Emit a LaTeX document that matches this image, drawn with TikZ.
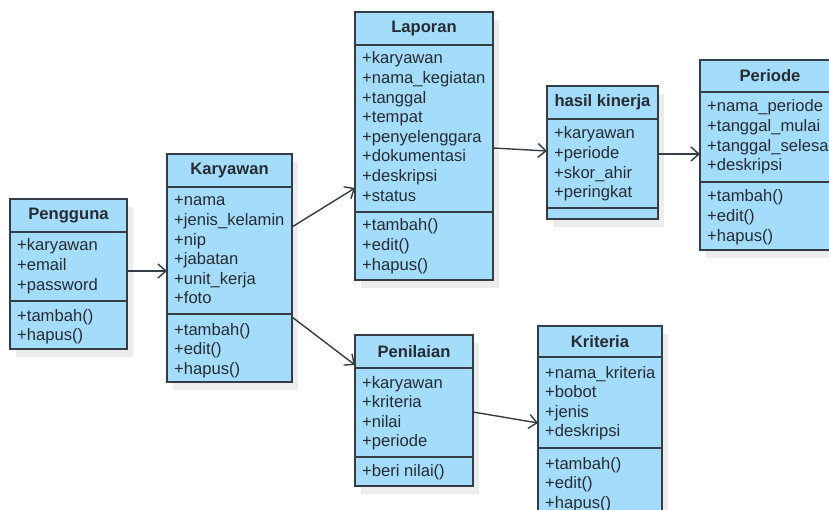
\documentclass[tikz,border=0pt]{standalone}
\usepackage{fontspec}
\setmainfont{Liberation Sans}
\usetikzlibrary{arrows.meta}

\definecolor{boxblue}{RGB}{164,220,252}
\definecolor{lineclr}{RGB}{52,60,68}
\definecolor{txt}{RGB}{38,44,50}
\definecolor{shadowclr}{RGB}{236,236,236}

\tikzset{
  cls/.style={draw=lineclr, fill=boxblue, line width=1.3pt, inner sep=0pt, outer sep=0pt, anchor=north west},
  sep/.style={draw=lineclr, line width=1.3pt},
  shade/.style={fill=shadowclr, draw=none},
  ttl/.style={font=\bfseries\fontsize{16.6}{19.6}\selectfont, text=txt, inner sep=0pt},
  row/.style={font=\fontsize{16.6}{19.6}\selectfont, text=txt, anchor=base west, inner sep=0pt},
  link/.style={draw=lineclr, line width=1.4pt, -{Straight Barb[length=8pt,width=14pt,line width=1.4pt]}},
}

% #1 name, #2 left, #3 top, #4 right, #5 header bottom, #6 divider, #7 bottom, #8 title
\newcommand\classbox[8]{%
  \fill[shade] (#2+6,#3+8) rectangle (#4+6,#7+8);
  \node[cls, minimum width={(#4-#2)*1pt}, minimum height={(#7-#3)*1pt}] (#1) at (#2,#3) {};
  \draw[sep] (#2,#5) -- (#4,#5);
  \draw[sep] (#2,#6) -- (#4,#6);
  \node[ttl] (#1-title) at ({(#2+#4)/2},{(#3+#5)/2}) {#8};
}
% #1 node prefix, #2 text x, #3 centre of first row, #4 rows
\newcommand\classrows[4]{%
  \foreach \t [count=\i] in {#4} {
    \node[row] (#1\i) at (#2, {#3+6+(\i-1)*19.6}) {\t};
  }
}

\begin{document}
\begin{tikzpicture}[x=1pt,y=-1pt]
  \useasboundingbox (0,0) rectangle (829,510);
  \clip (0,0) rectangle (829,510);
  \fill[white] (0,0) rectangle (829,510);

  % Pengguna
  \classbox{pen}{10}{199}{127}{232}{301}{349}{Pengguna}
  \classrows{pen-a}{17}{245}{+karyawan,+email,+password}
  \classrows{pen-m}{17}{315}{+tambah(),+hapus()}

  % Karyawan
  \classbox{kar}{167}{154}{292}{187}{314}{382}{Karyawan}
  \classrows{kar-a}{174}{200}{+nama,+jenis\_kelamin,+nip,+jabatan,+unit\_kerja,+foto}
  \classrows{kar-m}{174}{329}{+tambah(),+edit(),+hapus()}

  % Laporan
  \classbox{lap}{355}{12}{493}{45}{212}{280}{Laporan}
  \classrows{lap-a}{362}{58}{+karyawan,+nama\_kegiatan,+tanggal,+tempat,+penyelenggara,+dokumentasi,+deskripsi,+status}
  \classrows{lap-m}{362}{225}{+tambah(),+edit(),+hapus()}

  % hasil kinerja
  \classbox{has}{547}{86}{658}{119}{208}{219}{hasil kinerja}
  \classrows{has-a}{554}{133}{+karyawan,+periode,+skor\_ahir,+peringkat}

  % Periode
  \classbox{per}{700}{60}{840}{92}{182}{250}{Periode}
  \classrows{per-a}{707}{106}{+nama\_periode,+tanggal\_mulai,+tanggal\_selesai,+deskripsi}
  \classrows{per-m}{707}{196}{+tambah(),+edit(),+hapus()}

  % Penilaian
  \classbox{nil}{355}{335}{473}{368}{457}{486}{Penilaian}
  \classrows{nil-a}{362}{382}{+karyawan,+kriteria,+nilai,+periode}
  \classrows{nil-m}{362}{470}{+beri nilai()}

  % Kriteria
  \classbox{kri}{538}{326}{662}{357}{448}{530}{Kriteria}
  \classrows{kri-a}{545}{372}{+nama\_kriteria,+bobot,+jenis,+deskripsi}
  \classrows{kri-m}{545}{463}{+tambah(),+edit(),+hapus()}

  % associations
  \draw[link] ([yshift=3pt]pen.east) -- ([yshift=-3pt]kar.west);
  \draw[link] ([yshift=41pt]kar.east) -- ([yshift=-42pt]lap.west);
  \draw[link] ([yshift=-49pt]kar.east) -- ([yshift=45.5pt]nil.west);
  \draw[link] ([yshift=-2pt]lap.east) -- ([yshift=1.5pt]has.west);
  \draw[link] ([yshift=-1.5pt]has.east) -- ([yshift=1pt]per.west);
  \draw[link] ([yshift=-1.5pt]nil.east) -- ([yshift=5pt]kri.west);
\end{tikzpicture}
\end{document}
